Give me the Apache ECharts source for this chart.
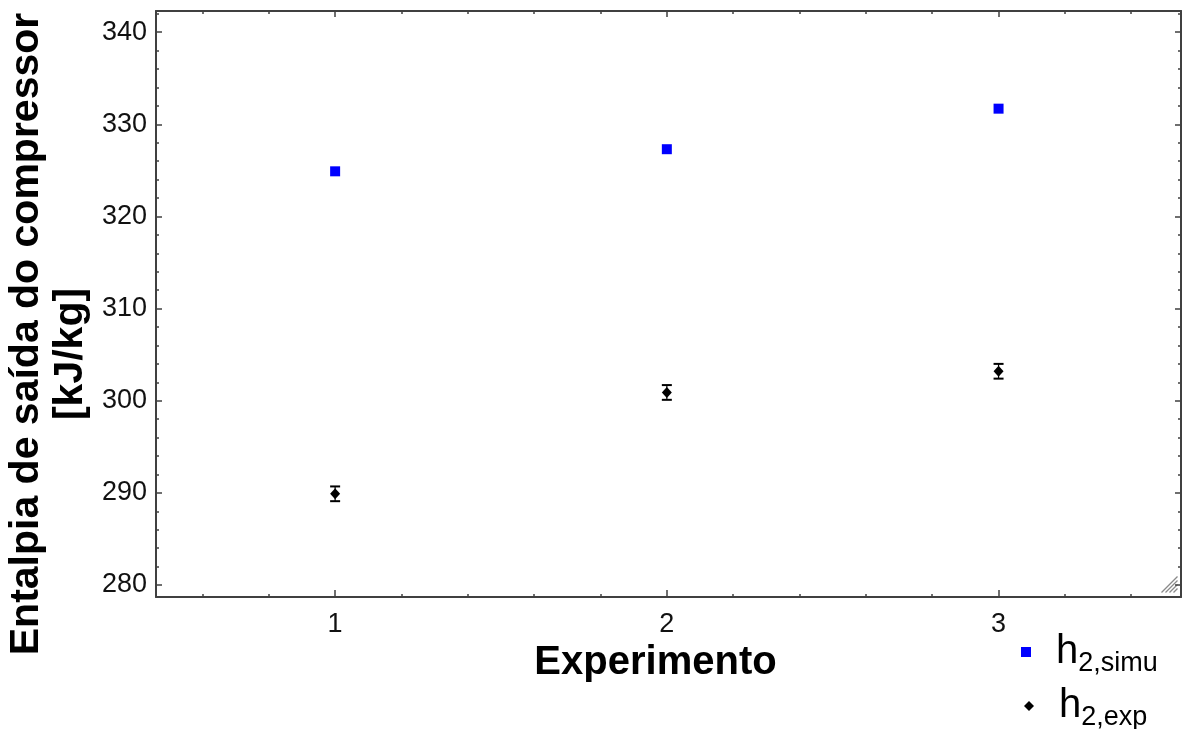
<!DOCTYPE html>
<html>
<head>
<meta charset="utf-8">
<title>Entalpia de saída do compressor</title>
<script src="https://cdn.jsdelivr.net/npm/echarts@6/dist/echarts.min.js"></script>
<style>
  html, body { margin: 0; padding: 0; background: #fff; }
  #chart { width: 1184px; height: 729px; }
</style>
</head>
<body>
<div id="chart"></div>
<script>
// Experiments on the x axis
const experiments = [1, 2, 3];
// Simulated compressor outlet enthalpy [kJ/kg]
const simuValues = [324.9, 327.3, 331.7];
// Measured compressor outlet enthalpy [kJ/kg] and its uncertainty
const expValues = [289.9, 300.9, 303.2];
const expErrors = [0.8, 0.8, 0.8];

// Axis ticks
const xMajorTicks = [1, 2, 3];
const xMinorTicks = [0.6, 0.8, 1.2, 1.4, 1.6, 1.8, 2.2, 2.4, 2.6, 2.8, 3.2, 3.4];
const yMajorTicks = [280, 290, 300, 310, 320, 330, 340];
const yMinorTicks = [];
for (let v = 282; v <= 342; v += 2) if (v % 10 !== 0) yMinorTicks.push(v);

const seriesNames = ['h2,simu', 'h2,exp'];
const X_MIN = 0.46, X_MAX = 3.55, Y_MIN = 278.7, Y_MAX = 342.3;

const FONT = 'Liberation Sans, Arial, sans-serif';
const FRAME = '#404040';

const chart = echarts.init(document.getElementById('chart'), null, { renderer: 'canvas' });

function xAxisDef(pos, ticks, len, showLine, showLabel, extra) {
  return Object.assign({
    type: 'value', position: pos, min: X_MIN, max: X_MAX,
    splitLine: { show: false },
    axisLine: { show: showLine, onZero: false, lineStyle: { color: FRAME, width: 2 } },
    axisTick: { show: true, inside: true, length: len, customValues: ticks, lineStyle: { color: FRAME, width: 1.5 } },
    axisLabel: showLabel
      ? { show: true, customValues: ticks, fontSize: 27, color: '#111', fontFamily: FONT, margin: 14 }
      : { show: false }
  }, extra || {});
}

function yAxisDef(pos, ticks, len, showLine, showLabel, extra) {
  return Object.assign({
    type: 'value', position: pos, min: Y_MIN, max: Y_MAX,
    splitLine: { show: false },
    axisLine: { show: showLine, onZero: false, lineStyle: { color: FRAME, width: 2 } },
    axisTick: { show: true, inside: true, length: len, customValues: ticks, lineStyle: { color: FRAME, width: 1.5 } },
    axisLabel: showLabel
      ? { show: true, customValues: ticks, fontSize: 27, color: '#111', fontFamily: FONT, margin: 9 }
      : { show: false }
  }, extra || {});
}

// One legend block per series, stacked under the plot on the right
function legendDef(name, icon, left, top) {
  return {
    orient: 'vertical', left: left, top: top,
    itemWidth: 10, itemHeight: 10, padding: 0,
    data: [{ name: name, icon: icon }],
    formatter: function (n) { return '{h|h}{s|' + n.slice(1) + '}'; },
    textStyle: {
      padding: [0, 0, 0, 20],
      rich: {
        h: { fontSize: 40, color: '#000', fontFamily: FONT },
        s: { fontSize: 27, color: '#000', fontFamily: FONT, padding: [24, 0, 0, 0] }
      }
    }
  };
}

const option = {
  backgroundColor: '#fff',
  animation: false,
  grid: { left: 156, right: 3, top: 11, bottom: 132, containLabel: false, outerBoundsMode: 'none' },
  xAxis: [
    xAxisDef('bottom', xMajorTicks, 7, true, true, {
      name: 'Experimento', nameLocation: 'middle', nameGap: 42,
      nameTextStyle: { fontSize: 40, fontWeight: 'bold', color: '#000', fontFamily: FONT, padding: [0, 26, 0, 0] }
    }),
    xAxisDef('bottom', xMinorTicks, 3, false, false),
    xAxisDef('top', xMajorTicks, 6, true, false),
    xAxisDef('top', xMinorTicks, 3, false, false)
  ],
  yAxis: [
    yAxisDef('left', yMajorTicks, 6, true, true, {
      name: '{a|Entalpia de saída do compressor}\n{b|[kJ/kg]}',
      nameLocation: 'middle', nameGap: 60, nameRotate: 90,
      nameTextStyle: {
        color: '#000', fontFamily: FONT, fontWeight: 'bold', fontSize: 41,
        padding: [0, 60, 0, 0],
        rich: {
          a: { fontSize: 41, fontWeight: 'bold', fontFamily: FONT, color: '#000', lineHeight: 44 },
          b: { fontSize: 41, fontWeight: 'bold', fontFamily: FONT, color: '#000', lineHeight: 44, padding: [0, 40, 0, 0] }
        }
      }
    }),
    yAxisDef('left', yMinorTicks, 3, false, false),
    yAxisDef('right', yMajorTicks, 6, true, false),
    yAxisDef('right', yMinorTicks, 3, false, false)
  ],
  legend: [
    legendDef(seriesNames[0], 'rect', 1021, 632),
    legendDef(seriesNames[1], 'diamond', 1024, 686)
  ],
  series: [
    {
      name: seriesNames[0], type: 'scatter', xAxisIndex: 0, yAxisIndex: 0,
      symbol: 'rect', symbolSize: 10,
      itemStyle: { color: '#0000ff', opacity: 1 },
      data: experiments.map((x, i) => [x, simuValues[i]])
    },
    {
      name: seriesNames[1] + ' bars', type: 'custom', xAxisIndex: 0, yAxisIndex: 0,
      data: experiments.map((x, i) => [x, expValues[i], expErrors[i]]),
      renderItem: function (params, api) {
        const x = api.value(0), y = api.value(1), e = api.value(2);
        const top = api.coord([x, y + e]);
        const bot = api.coord([x, y - e]);
        const hw = 5;
        const st = { stroke: '#000', lineWidth: 1.2 };
        const cap = { stroke: '#000', lineWidth: 2 };
        return {
          type: 'group',
          children: [
            { type: 'line', shape: { x1: top[0], y1: top[1], x2: bot[0], y2: bot[1] }, style: st },
            { type: 'line', shape: { x1: top[0] - hw, y1: top[1], x2: top[0] + hw, y2: top[1] }, style: cap },
            { type: 'line', shape: { x1: bot[0] - hw, y1: bot[1], x2: bot[0] + hw, y2: bot[1] }, style: cap }
          ]
        };
      },
      z: 2
    },
    {
      name: seriesNames[1], type: 'scatter', xAxisIndex: 0, yAxisIndex: 0,
      symbol: 'diamond', symbolSize: [10, 11],
      itemStyle: { color: '#000', opacity: 1 },
      data: experiments.map((x, i) => [x, expValues[i]]),
      z: 3
    }
  ],
  graphic: [
    {
      // size grip in the lower right corner of the plot frame
      type: 'group', right: 4, bottom: 134,
      children: [
        { type: 'line', shape: { x1: 0, y1: 16, x2: 16, y2: 0 }, style: { stroke: '#8a8a8a', lineWidth: 1.2 } },
        { type: 'line', shape: { x1: 4, y1: 16, x2: 16, y2: 4 }, style: { stroke: '#8a8a8a', lineWidth: 1.2 } },
        { type: 'line', shape: { x1: 8, y1: 16, x2: 16, y2: 8 }, style: { stroke: '#8a8a8a', lineWidth: 1.2 } },
        { type: 'line', shape: { x1: 12, y1: 16, x2: 16, y2: 12 }, style: { stroke: '#8a8a8a', lineWidth: 1.2 } }
      ]
    }
  ]
};

chart.setOption(option);
</script>
</body>
</html>
